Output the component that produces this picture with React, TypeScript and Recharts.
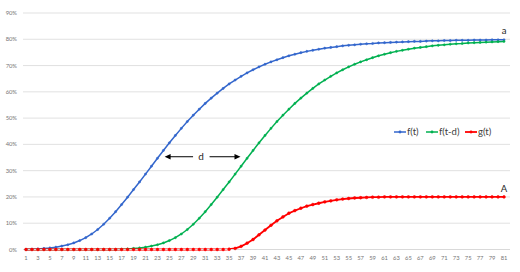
import React from "react";
import { LineChart, Line, XAxis, YAxis, CartesianGrid, ReferenceLine, ReferenceDot } from "recharts";

const times: number[] = Array.from({ length: 81 }, (_, i) => i + 1);

const fT: number[] = [
  0.000, 0.001, 0.002, 0.004, 0.006, 0.009, 0.013, 0.018, 0.025, 0.034,
  0.045, 0.059, 0.076, 0.096, 0.119, 0.144, 0.171, 0.199, 0.228, 0.257,
  0.287, 0.317, 0.347, 0.377, 0.406, 0.434, 0.461, 0.487, 0.511, 0.534,
  0.556, 0.576, 0.595, 0.613, 0.630, 0.645, 0.659, 0.672, 0.684, 0.695,
  0.705, 0.714, 0.722, 0.730, 0.737, 0.743, 0.749, 0.754, 0.758, 0.762,
  0.766, 0.769, 0.772, 0.775, 0.777, 0.779, 0.781, 0.783, 0.784, 0.786,
  0.787, 0.788, 0.789, 0.790, 0.791, 0.792, 0.792, 0.793, 0.794, 0.794,
  0.795, 0.795, 0.796, 0.796, 0.796, 0.797, 0.797, 0.797, 0.798, 0.798,
  0.798,
];

const fTd: number[] = [
  0.000, 0.000, 0.000, 0.000, 0.000, 0.000, 0.000, 0.000, 0.000, 0.000,
  0.000, 0.000, 0.000, 0.000, 0.000, 0.000, 0.001, 0.002, 0.004, 0.006,
  0.009, 0.013, 0.018, 0.025, 0.034, 0.045, 0.059, 0.076, 0.096, 0.119,
  0.144, 0.171, 0.199, 0.228, 0.257, 0.287, 0.317, 0.347, 0.377, 0.406,
  0.434, 0.461, 0.487, 0.511, 0.534, 0.556, 0.576, 0.595, 0.613, 0.630,
  0.645, 0.659, 0.672, 0.684, 0.695, 0.705, 0.714, 0.722, 0.730, 0.737,
  0.743, 0.749, 0.754, 0.758, 0.762, 0.766, 0.769, 0.772, 0.775, 0.777,
  0.779, 0.781, 0.783, 0.784, 0.786, 0.787, 0.788, 0.789, 0.790, 0.791,
  0.792,
];

const gT: number[] = [
  0, 0, 0, 0, 0, 0, 0, 0, 0, 0,
  0, 0, 0, 0, 0, 0, 0, 0, 0, 0,
  0, 0, 0, 0, 0, 0, 0, 0, 0, 0,
  0, 0, 0, 0, 0.001, 0.004, 0.012, 0.024, 0.038, 0.056,
  0.074, 0.092, 0.109, 0.124, 0.138, 0.148, 0.157, 0.165, 0.171, 0.176,
  0.181, 0.185, 0.189, 0.192, 0.194, 0.196, 0.197, 0.198, 0.199, 0.199,
  0.2, 0.2, 0.2, 0.2, 0.2, 0.2, 0.2, 0.2, 0.2, 0.2,
  0.2, 0.2, 0.2, 0.2, 0.2, 0.2, 0.2, 0.2, 0.2, 0.2,
  0.2,
];

const xTicks: number[] = times.filter((t) => t % 2 === 1);
const yTicks: number[] = [0, 0.1, 0.2, 0.3, 0.4, 0.5, 0.6, 0.7, 0.8, 0.9];

const seriesNames = ["f(t)", "f(t-d)", "g(t)"];
const seriesColors = ["#3366CC", "#00B050", "#FF0000"];

const data = times.map((t, i) => ({ t, f: fT[i], fd: fTd[i], g: gT[i] }));

const FONT = "Lato, 'Liberation Sans', sans-serif";

const ArrowShape = (props: any) => {
  const { x1, y1, x2 } = props;
  const y = y1;
  const mid = (x1 + x2) / 2;
  const ah = 6;
  const aw = 2.8;
  return (
    <g>
      <line x1={x1 + ah - 1} y1={y} x2={mid - 9.5} y2={y} stroke="#000" strokeWidth={1} />
      <polygon points={`${x1},${y} ${x1 + ah},${y - aw} ${x1 + ah},${y + aw}`} fill="#000" />
      <text x={mid - 1.5} y={y} dy="0.35em" textAnchor="middle" fontSize={10} fontFamily={FONT} fill="#262626">d</text>
      <line x1={mid + 7} y1={y} x2={x2 - ah + 1} y2={y} stroke="#000" strokeWidth={1} />
      <polygon points={`${x2},${y} ${x2 - ah},${y - aw} ${x2 - ah},${y + aw}`} fill="#000" />
    </g>
  );
};

const Legend = () => (
  <svg width={520} height={272} style={{ position: "absolute", left: 0, top: 0, pointerEvents: "none" }}>
    {seriesNames.map((name, i) => {
      const starts = [394, 426, 465];
      const x0 = starts[i];
      const y = 132;
      return (
        <g key={name}>
          <line x1={x0} y1={y} x2={x0 + 12} y2={y} stroke={seriesColors[i]} strokeWidth={i === 2 ? 1.8 : 1.5} />
          <circle cx={x0 + 6} cy={y} r={1.4} fill={seriesColors[i]} />
          <text x={x0 + 13} y={y} dy="0.35em" fontSize={9.5} fontFamily={FONT} fill="#404040">{name}</text>
        </g>
      );
    })}
  </svg>
);

export default function App() {
  return (
    <div style={{ position: "absolute", left: 0, top: 0, width: 520, height: 272, background: "#fff" }}>
      <LineChart width={520} height={272} data={data} margin={{ top: 13, right: 10, bottom: 0, left: 0 }}>
        <CartesianGrid horizontal={true} vertical={false} stroke="#D9D9D9" strokeWidth={0.8} />
        <XAxis
          dataKey="t"
          type="number"
          domain={[0.5, 81.5]}
          ticks={xTicks}
          interval={0}
          height={22.5}
          tickLine={false}
          tickSize={3}
          tickMargin={3.5}
          axisLine={{ stroke: "#D9D9D9" }}
          tick={{ fontSize: 5.8, fill: "#767676", fontFamily: FONT }}
          allowDecimals={false}
        />
        <YAxis
          type="number"
          domain={[0, 0.9]}
          ticks={yTicks}
          width={23}
          axisLine={false}
          tickLine={false}
          tickSize={4}
          tickMargin={2}
          tickFormatter={(v: number) => `${Math.round(v * 100)}%`}
          tick={{ fontSize: 5.8, fill: "#767676", fontFamily: FONT }}
        />
        <Line
          dataKey="f"
          stroke={seriesColors[0]}
          strokeWidth={1.5}
          dot={{ r: 1.1, fill: seriesColors[0], stroke: seriesColors[0], strokeWidth: 0.5 }}
          isAnimationActive={false}
          type="linear"
        />
        <Line
          dataKey="fd"
          stroke={seriesColors[1]}
          strokeWidth={1.5}
          dot={{ r: 1.1, fill: seriesColors[1], stroke: seriesColors[1], strokeWidth: 0.5 }}
          isAnimationActive={false}
          type="linear"
        />
        <Line
          dataKey="g"
          stroke={seriesColors[2]}
          strokeWidth={1.8}
          dot={{ r: 1.4, fill: seriesColors[2], stroke: seriesColors[2], strokeWidth: 0.5 }}
          isAnimationActive={false}
          type="linear"
        />
        <ReferenceLine
          segment={[{ x: 24.2, y: 0.353 }, { x: 36.9, y: 0.353 }]}
          shape={ArrowShape}
          ifOverflow="visible"
        />
        <ReferenceDot
          x={81}
          y={0.8}
          r={0}
          fill="none"
          stroke="none"
          ifOverflow="visible"
          label={{ value: "a", position: "top", offset: 5, fontSize: 9.5, fill: "#262626", fontFamily: FONT }}
        />
        <ReferenceDot
          x={81}
          y={0.2}
          r={0}
          fill="none"
          stroke="none"
          ifOverflow="visible"
          label={{ value: "A", position: "top", offset: 5, fontSize: 9.5, fill: "#262626", fontFamily: FONT }}
        />
      </LineChart>
      <Legend />
    </div>
  );
}
